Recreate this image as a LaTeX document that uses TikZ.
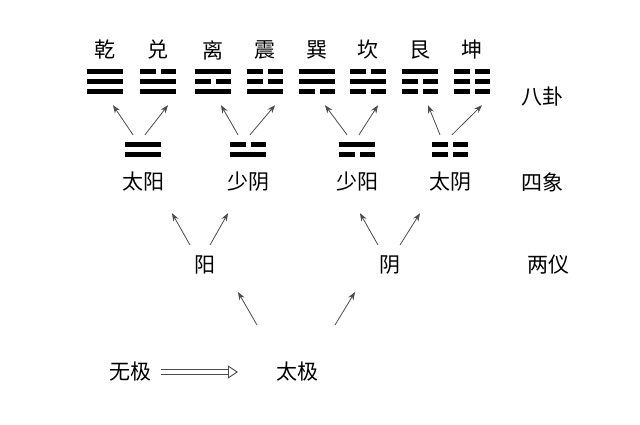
\documentclass[tikz,border=0pt]{standalone}
\usepackage{fontspec}
\setmainfont{Noto Sans CJK SC}
\usetikzlibrary{positioning,calc,arrows.meta}

% one yao: solid (1) or broken (0), centred at (#1)
\newcommand{\yao}[2]{%
  \ifnum#2=1
    \fill ($(#1)+(-18,-2.5)$) rectangle ($(#1)+(18,2.5)$);
  \else
    \fill ($(#1)+(-18,-2.5)$) rectangle ($(#1)+(-2.5,2.5)$);
    \fill ($(#1)+(2.5,-2.5)$) rectangle ($(#1)+(18,2.5)$);
  \fi}

\tikzset{
  lbl/.style={font=\fontsize{21}{24}\selectfont, inner sep=1pt},
  up/.style={-{Stealth[length=8pt,width=6pt]}, draw=black!70, thick},
  gua/.style={minimum width=36pt, minimum height=26pt, inner sep=0pt}
}

\begin{document}
\begin{tikzpicture}[x=1pt,y=-1pt]
  \useasboundingbox (0,0) rectangle (640,425);

  % Bagua
  \foreach \name/\x/\a/\b/\c in {qian/105/1/1/1, dui/158/0/1/1, li/213/1/0/1, zhen/265/0/0/1,
                                 xun/317/1/1/0, kan/368/0/1/0, gen/420/1/0/0, kun/472/0/0/0} {
    \node[gua] (\name) at (\x,82) {};
    \yao{\x,72}{\a}
    \yao{\x,82}{\b}
    \yao{\x,92}{\c}
  }
  \foreach \name/\t in {qian/乾, dui/兑, li/离, zhen/震, xun/巽, kan/坎, gen/艮, kun/坤}
    \node[lbl] at ($(\name)+(0,-32)$) {\t};

  % Sixiang
  \foreach \name/\x/\a/\b/\t in {taiyang/143/1/1/太阳, shaoyin/248/0/1/少阴,
                                 shaoyang/357/1/0/少阳, taiyin/450/0/0/太阴} {
    \node[gua, minimum height=16pt] (\name) at (\x,150) {};
    \yao{\x,145}{\a}
    \yao{\x,155}{\b}
    \node[lbl] (\name-t) at (\x,182) {\t};
  }

  % arrows sixiang -> bagua
  \foreach \s/\l/\r in {taiyang/qian/dui, shaoyin/li/zhen, shaoyang/xun/kan, taiyin/gen/kun} {
    \draw[up] ($(\s.north)+(-10,-7)$) -- ($(\l.south)+(8,10)$);
    \draw[up] ($(\s.north)+(2,-7)$) -- ($(\r.south)+(10,10)$);
  }

  % Liangyi
  \node[lbl] (yang) at (205,265) {阳};
  \node[lbl] (yin) at (390,265) {阴};
  \draw[up] ($(yang)+(-15,-20)$) -- ($(taiyang.south)+(29,55)$);
  \draw[up] ($(yang)+(5,-20)$) -- ($(shaoyin.south)+(-20,55)$);
  \draw[up] ($(yin)+(-12,-20)$) -- ($(shaoyang.south)+(3,55)$);
  \draw[up] ($(yin)+(10,-20)$) -- ($(taiyin.south)+(-30,55)$);

  % Wuji, Taiji
  \node[lbl] (wuji) at (130,372) {无极};
  \node[lbl] (taiji) at (297,372) {太极};
  \draw[up] ($(taiji)+(-40,-47)$) -- ($(yang)+(33,27)$);
  \draw[up] ($(taiji)+(38,-47)$) -- ($(yin)+(-35,27)$);
  \draw[double=white, double distance=4pt, draw=black!70, line width=0.9pt,
        -{Triangle[open, length=10pt, width=13pt]}] (wuji.east) ++(9,0) -- (238,372);

  % right labels
  \node[lbl] at (542,97) {八卦};
  \node[lbl] at (542,182) {四象};
  \node[lbl] at (548,265) {两仪};
\end{tikzpicture}
\end{document}
